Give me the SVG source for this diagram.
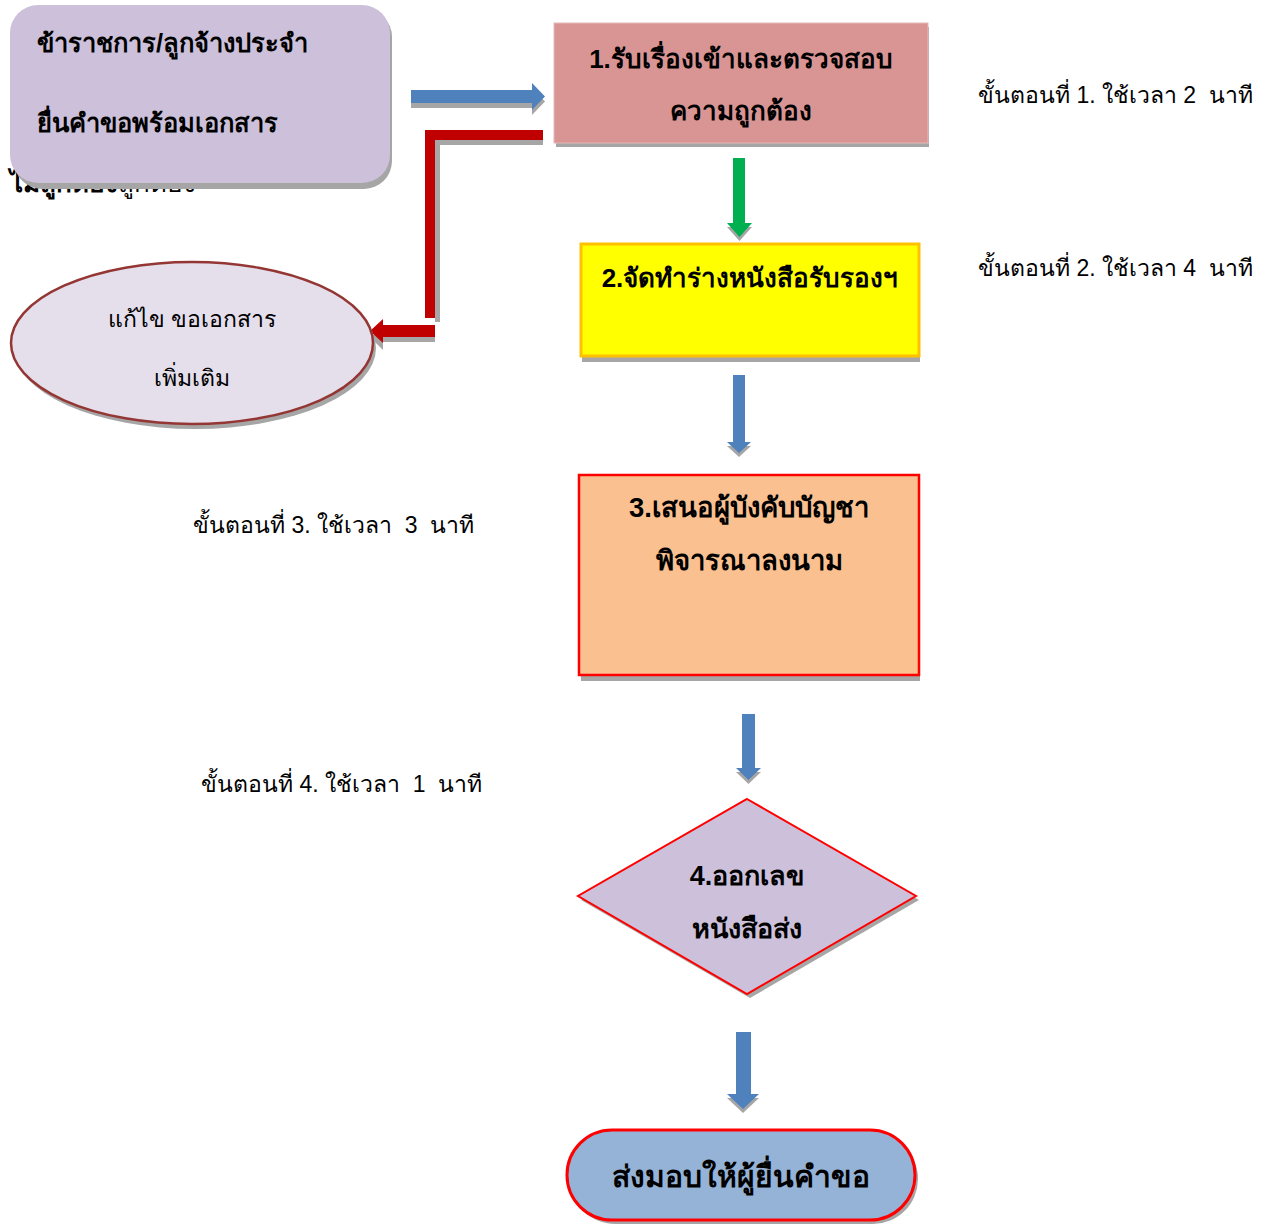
<svg xmlns="http://www.w3.org/2000/svg" width="1273" height="1225" viewBox="0 0 1273 1225">
<style>
text{font-family:"Liberation Sans","Noto Sans",sans-serif;fill:#000}
.b{font-weight:bold;font-size:26px}
.n{font-size:23px}
.lbl{font-size:23px}
.sh{fill:#A6A6A6}
</style>
<rect width="1273" height="1225" fill="#fff"/>
<text x="10" y="192" font-size="26" xml:space="preserve"><tspan font-weight="bold">ไม่ถูกต้อง</tspan><tspan>ถูกต้อง</tspan></text>
<g id="start">
<rect x="14" y="9" width="378" height="180" rx="28" class="sh"/>
<rect x="10" y="5" width="380" height="178" rx="28" fill="#CCC0DA"/>
<text x="37" y="52" class="b" style="font-size:25.5px">ข้าราชการ/ลูกจ้างประจำ</text>
<text x="37" y="132" class="b" style="font-size:25.5px">ยื่นคำขอพร้อมเอกสาร</text>
</g>
<g id="connectors">
<path d="M411 95 h121 v-7 l13 13.5 -13 13.5 v-7 h-121z" class="sh"/>
<path d="M411 90 h121 v-7 l13 13.5 -13 13.5 v-7 h-121z" fill="#4F81BD"/>
<path d="M435 140 h108 v5 h-103 v177 h-5z" class="sh"/>
<path d="M543 130 v10 h-108 v178 h-10 v-188z" fill="#C00000"/>
<path d="M383 330 h52 v12 h-52 v8 l-13 -13z" class="sh"/>
<path d="M435 325 v12 h-52 v6 l-13 -12 13 -12 v6z" fill="#C00000"/>
<path d="M733 162 h12 v65 h7 l-12.5 14 -12.5 -14 h6z" class="sh"/>
<path d="M733 158 h12 v65 h7 l-12.5 14 -12.5 -14 h6z" fill="#00B050"/>
<path d="M733 379 h12 v67 h6 l-12 11 -12 -11 h6z" class="sh"/>
<path d="M733 375 h12 v67 h6 l-12 11 -12 -11 h6z" fill="#4F81BD"/>
<path d="M742 718 h13 v54 h6 l-12.5 12 -12.5 -12 h6z" class="sh"/>
<path d="M742 714 h13 v54 h6 l-12.5 12 -12.5 -12 h6z" fill="#4F81BD"/>
<path d="M736 1036 h15 v62 h8 l-16 15 -16 -15 h9z" class="sh"/>
<path d="M736 1032 h15 v62 h8 l-16 15 -16 -15 h9z" fill="#4F81BD"/>
</g>
<g id="step1">
<rect x="556" y="27" width="373" height="120" class="sh"/>
<rect x="554" y="23" width="374" height="120" fill="#D99594" stroke="#E6B9B8" stroke-width="1"/>
<text x="741" y="68" class="b" text-anchor="middle">1.รับเรื่องเข้าและตรวจสอบ</text>
<text x="741" y="120" class="b" text-anchor="middle">ความถูกต้อง</text>
</g>
<g id="step2">
<rect x="582" y="248" width="338" height="114" class="sh"/>
<rect x="581" y="244" width="338" height="112" fill="#FFFF00" stroke="#FFC000" stroke-width="3"/>
<text x="750" y="287" class="b" text-anchor="middle">2.จัดทำร่างหนังสือรับรองฯ</text>
</g>
<g id="fix">
<ellipse cx="195" cy="348" rx="181" ry="81" class="sh"/>
<ellipse cx="192" cy="343" rx="181" ry="81" fill="#E5DFEC" stroke="#943634" stroke-width="2.5"/>
<text x="192" y="327" class="n" text-anchor="middle">แก้ไข ขอเอกสาร</text>
<text x="192" y="386" class="n" text-anchor="middle">เพิ่มเติม</text>
</g>
<g id="step3">
<rect x="581" y="479" width="339" height="202" class="sh"/>
<rect x="579" y="475" width="340" height="200" fill="#FAC090" stroke="#FF0000" stroke-width="2.5"/>
<text x="749" y="517" class="b" text-anchor="middle" style="font-size:27.5px">3.เสนอผู้บังคับบัญชา</text>
<text x="749" y="570" class="b" text-anchor="middle" style="font-size:27.5px">พิจารณาลงนาม</text>
</g>
<g id="step4">
<path d="M750 803 L919 900 L750 998 L581 900z" class="sh"/>
<path d="M747 799 L916 896 L747 994 L578 896z" fill="#CCC0DA" stroke="#FF0000" stroke-width="2"/>
<text x="747" y="885" class="b" text-anchor="middle" style="font-size:27px">4.ออกเลข</text>
<text x="747" y="938" class="b" text-anchor="middle" style="font-size:27px">หนังสือส่ง</text>
</g>
<g id="end">
<rect x="570" y="1134" width="348" height="90" rx="45" class="sh"/>
<rect x="567" y="1130" width="348" height="90" rx="45" fill="#95B3D7" stroke="#FF0000" stroke-width="3"/>
<text x="741" y="1187" font-size="30" font-weight="bold" text-anchor="middle">ส่งมอบให้ผู้ยื่นคำขอ</text>
</g>
<g id="labels">
<text x="978" y="103" class="lbl" xml:space="preserve">ขั้นตอนที่ 1. ใช้เวลา 2  นาที</text>
<text x="978" y="276" class="lbl" xml:space="preserve">ขั้นตอนที่ 2. ใช้เวลา 4  นาที</text>
<text x="193" y="533" class="lbl" xml:space="preserve">ขั้นตอนที่ 3. ใช้เวลา  3  นาที</text>
<text x="201" y="792" class="lbl" xml:space="preserve">ขั้นตอนที่ 4. ใช้เวลา  1  นาที</text>
</g>
</svg>
